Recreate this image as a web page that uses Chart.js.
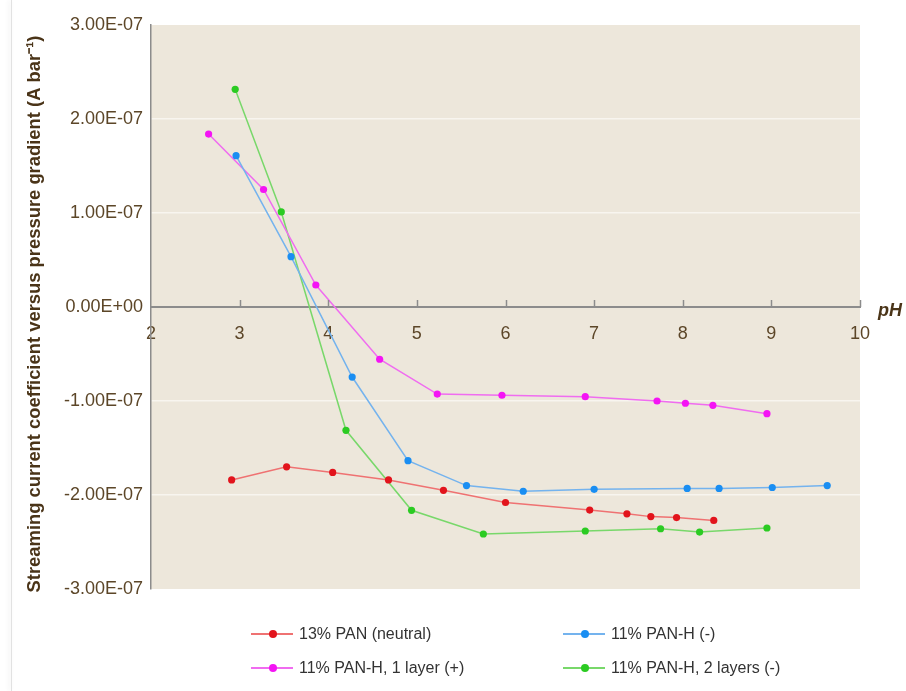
<!DOCTYPE html>
<html>
<head>
<meta charset="utf-8">
<script src="https://cdn.jsdelivr.net/npm/chart.js@4.4.1/dist/chart.umd.min.js"></script>
<style>
  html, body { margin: 0; padding: 0; background: #ffffff; }
  #wrap { position: relative; width: 906px; height: 691px; overflow: hidden; font-family: "Liberation Sans", Arial, sans-serif; }
  #edge { position: absolute; left: 11px; top: 0; width: 1px; height: 691px; background: #e2e2e2; box-shadow: -2px 0 4px rgba(0,0,0,0.12); }
  #chart { position: absolute; left: 0; top: 0; }
  .lg { position: absolute; height: 20px; display: flex; align-items: center; font-size: 16px; color: #333; white-space: nowrap; }
  .lg .sym { position: relative; width: 42px; height: 20px; margin-right: 6px; }
  .lg .sym .ln { position: absolute; left: 0; right: 0; top: 9px; height: 2px; }
  .lg .sym .dt { position: absolute; left: 18px; top: 6px; width: 8px; height: 8px; border-radius: 50%; }
</style>
</head>
<body>
<div id="wrap">
  <div id="edge"></div>
  <canvas id="chart" width="906" height="691"></canvas>
  <div id="legend"></div>
</div>
<script>
// pH values and streaming current coefficients (A bar^-1) for each membrane
const panNeutralPH  = [2.91, 3.53, 4.05, 4.68, 5.30, 6.00, 6.95, 7.37, 7.64, 7.93, 8.35];
const panNeutralVal = [-1.84e-7, -1.70e-7, -1.76e-7, -1.84e-7, -1.95e-7, -2.08e-7, -2.16e-7, -2.20e-7, -2.23e-7, -2.24e-7, -2.27e-7];

const panHPH  = [2.96, 3.58, 4.27, 4.90, 5.56, 6.20, 7.00, 8.05, 8.41, 9.01, 9.63];
const panHVal = [1.61e-7, 0.535e-7, -0.745e-7, -1.635e-7, -1.90e-7, -1.96e-7, -1.94e-7, -1.93e-7, -1.93e-7, -1.92e-7, -1.90e-7];

const panH1PH  = [2.65, 3.27, 3.86, 4.58, 5.23, 5.96, 6.90, 7.71, 8.03, 8.34, 8.95];
const panH1Val = [1.84e-7, 1.25e-7, 0.234e-7, -0.556e-7, -0.926e-7, -0.939e-7, -0.954e-7, -1.00e-7, -1.024e-7, -1.046e-7, -1.135e-7];

const panH2PH  = [2.95, 3.47, 4.20, 4.94, 5.75, 6.90, 7.75, 8.19, 8.95];
const panH2Val = [2.316e-7, 1.011e-7, -1.312e-7, -2.163e-7, -2.415e-7, -2.383e-7, -2.359e-7, -2.394e-7, -2.351e-7];

const seriesNames = ["13% PAN (neutral)", "11% PAN-H (-)", "11% PAN-H, 1 layer (+)", "11% PAN-H, 2 layers (-)"];
const xTicks = [2, 3, 4, 5, 6, 7, 8, 9, 10];
const yTicks = [-3e-7, -2e-7, -1e-7, 0, 1e-7, 2e-7, 3e-7];

const lineColors  = ["#ef7272", "#74b3ee", "#f06cf0", "#78d86a"];
const pointColors = ["#e2141c", "#1a8ef2", "#f414f4", "#2bcb22"];

const toXY = (xs, ys) => xs.map((x, i) => ({ x: x, y: ys[i] }));
const seriesData = [
  toXY(panNeutralPH, panNeutralVal),
  toXY(panHPH, panHVal),
  toXY(panH1PH, panH1Val),
  toXY(panH2PH, panH2Val)
];

function sciLabel(v) {
  if (Math.abs(v) < 1e-12) return "0.00E+00";
  const s = v.toExponential(2).toUpperCase();
  const m = s.match(/^(-?[\d.]+)E([+-])(\d+)$/);
  const exp = m[3].length < 2 ? "0" + m[3] : m[3];
  return m[1] + "E" + m[2] + exp;
}

const TEXT = "#5c4628";
const AXIS = "#8c8c8c";

const plotDecor = {
  id: "plotDecor",
  beforeDraw(chart) {
    const { ctx, chartArea: a } = chart;
    ctx.save();
    ctx.fillStyle = "#ede7db";
    ctx.fillRect(a.left, a.top, a.right - a.left, a.bottom - a.top);
    ctx.restore();
  },
  afterDatasetsDraw(chart) {
    const { ctx, scales } = chart;
    const xs = scales.x, ys = scales.y;
    const y0 = ys.getPixelForValue(0);
    ctx.save();
    // tick marks rising from the zero line
    ctx.strokeStyle = AXIS;
    ctx.lineWidth = 1.5;
    xTicks.forEach(t => {
      if (t === xTicks[0]) return;
      const px = Math.round(xs.getPixelForValue(t)) + 0.5;
      ctx.beginPath();
      ctx.moveTo(px, y0);
      ctx.lineTo(px, y0 - 7);
      ctx.stroke();
    });
    // axis name at the end of the pH axis
    ctx.fillStyle = "#4a3418";
    ctx.font = "italic bold 18px 'Liberation Sans', Arial, sans-serif";
    ctx.textAlign = "left";
    ctx.textBaseline = "middle";
    ctx.fillText("pH", xs.right + 18, y0 + 4);
    // vertical axis title
    ctx.translate(35, (ys.top + ys.bottom) / 2 + 7);
    ctx.rotate(-Math.PI / 2);
    ctx.textAlign = "center";
    ctx.font = "bold 18.4px 'Liberation Sans', Arial, sans-serif";
    ctx.fillText("Streaming current coefficient versus pressure gradient (A bar\u207B\u00B9)", 0, 0);
    ctx.restore();
  }
};

new Chart(document.getElementById("chart"), {
  type: "line",
  data: {
    datasets: seriesData.map((d, i) => ({
      label: seriesNames[i],
      data: d,
      borderColor: lineColors[i],
      backgroundColor: pointColors[i],
      pointBackgroundColor: pointColors[i],
      pointBorderWidth: 0,
      pointRadius: 3.6,
      borderWidth: 1.5,
      tension: 0,
      fill: false
    }))
  },
  options: {
    responsive: false,
    animation: false,
    layout: { padding: { top: 25, right: 46, bottom: 102, left: 0 } },
    plugins: { legend: { display: false }, tooltip: { enabled: false } },
    scales: {
      x: {
        type: "linear",
        position: { y: 0 },
        min: 2, max: 10,
        afterBuildTicks: s => { s.ticks = xTicks.map(v => ({ value: v })); },
        grid: { display: true, drawOnChartArea: false, drawTicks: false },
        border: { display: true, color: AXIS, width: 2 },
        ticks: {
          padding: 16,
          color: TEXT,
          font: { family: "'Liberation Sans', Arial, sans-serif", size: 18 },
          callback: v => String(v),
          maxRotation: 0
        }
      },
      y: {
        type: "linear",
        min: -3e-7, max: 3e-7,
        afterBuildTicks: s => { s.ticks = yTicks.map(v => ({ value: v })); },
        afterFit: s => { s.width = 151; },
        grid: {
          drawTicks: false,
          lineWidth: 1.5,
          color: c => (Math.abs(Math.abs(c.tick.value) - 3e-7) < 1e-12 || Math.abs(c.tick.value) < 1e-12) ? "rgba(0,0,0,0)" : "#f8f5ef"
        },
        border: { display: true, color: AXIS, width: 1.5 },
        ticks: {
          padding: 8,
          color: TEXT,
          font: { family: "'Liberation Sans', Arial, sans-serif", size: 18 },
          callback: v => sciLabel(v)
        }
      }
    }
  },
  plugins: [plotDecor]
});

// legend in two columns
const legendPos = [[251, 624], [563, 624], [251, 658], [563, 658]];
const lg = document.getElementById("legend");
seriesNames.forEach((name, i) => {
  const el = document.createElement("div");
  el.className = "lg";
  el.style.left = legendPos[i][0] + "px";
  el.style.top = legendPos[i][1] + "px";
  el.innerHTML = '<span class="sym"><span class="ln" style="background:' + lineColors[i] +
    '"></span><span class="dt" style="background:' + pointColors[i] + '"></span></span><span></span>';
  el.lastChild.textContent = name;
  lg.appendChild(el);
});
</script>
</body>
</html>
